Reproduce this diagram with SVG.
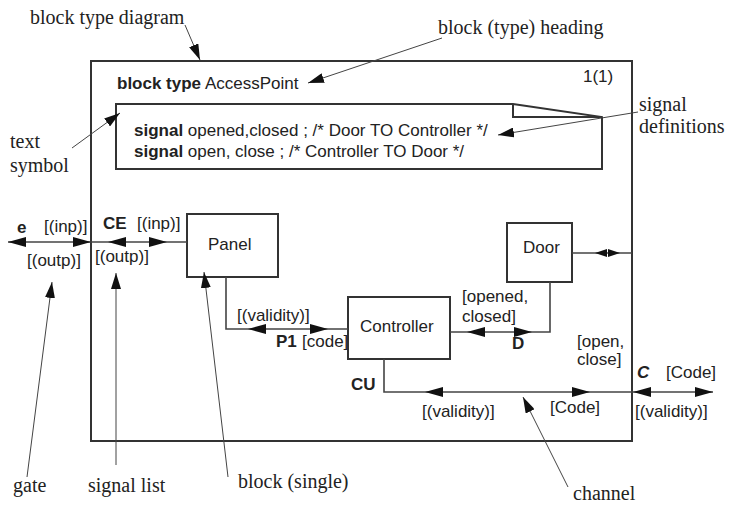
<svg xmlns="http://www.w3.org/2000/svg" width="731" height="509" viewBox="0 0 731 509">
<style>
.ann{font-family:"Liberation Serif","Times New Roman",serif;font-size:20px;fill:#222}
.t{font-family:"Liberation Sans",Arial,sans-serif;font-size:17px;fill:#222}
.b{font-weight:bold}
.box{fill:#fff;stroke:#333;stroke-width:2}
.frame{fill:none;stroke:#333;stroke-width:2}
.ch{fill:none;stroke:#444;stroke-width:1.6}
.al{fill:none;stroke:#444;stroke-width:1;marker-end:url(#ah)}
.ah{fill:#111}
</style>
<defs>
<marker id="ah" viewBox="0 0 16 10" refX="16" refY="5" markerWidth="16" markerHeight="10" markerUnits="userSpaceOnUse" orient="auto">
<path d="M0,0 L16,5 L0,10 Z" fill="#111"/>
</marker>
<path id="arrR" d="M0,0 L-18,-5 L-18,5 Z"/>
<path id="arrL" d="M0,0 L18,-5 L18,5 Z"/>
<path id="sR" d="M0,0 L-12,-4 L-12,4 Z"/>
<path id="sL" d="M0,0 L12,-4 L12,4 Z"/>
</defs>
<rect width="731" height="509" fill="#fff"/>

<g id="frame">
<rect class="frame" x="91" y="61" width="541" height="380"/>
<text class="t" x="117" y="89"><tspan class="b">block type</tspan> AccessPoint</text>
<text class="t" x="583" y="82">1(1)</text>
</g>

<g id="textsymbol">
<path class="frame" d="M513,104 L116,104 L116,169 L602,169 L602,117 L513,104 Z M513,104 L513,117 L602,117"/>
<text class="t" x="134" y="136"><tspan class="b">signal</tspan> opened,closed ; /* Door TO Controller */</text>
<text class="t" x="134" y="157"><tspan class="b">signal</tspan> open, close ; /* Controller TO Door */</text>
</g>

<g id="panel">
<rect class="box" x="187" y="214" width="91" height="63"/>
<text class="t" x="208" y="250">Panel</text>
</g>
<g id="door">
<rect class="box" x="507" y="223" width="65" height="59"/>
<text class="t" x="523" y="253">Door</text>
</g>
<g id="controller">
<rect class="box" x="348" y="297" width="102" height="62"/>
<text class="t" x="360" y="332">Controller</text>
</g>

<g id="connectors" class="ah">
<!-- gate e -->
<line class="ch" x1="8" y1="242" x2="91" y2="242"/>
<use href="#arrL" x="8" y="242"/>
<use href="#arrR" x="91" y="242"/>
<!-- CE -->
<line class="ch" x1="91" y1="242" x2="187" y2="242"/>
<use href="#arrL" x="108" y="242"/>
<use href="#arrR" x="167" y="242"/>
<!-- P1 -->
<polyline class="ch" points="226,277 226,329 348,329"/>
<use href="#arrL" x="248" y="329"/>
<use href="#arrR" x="328" y="329"/>
<!-- D -->
<polyline class="ch" points="450,332 550,332 550,282"/>
<use href="#arrL" x="467" y="332"/>
<use href="#arrR" x="532" y="332"/>
<!-- Door to frame -->
<line class="ch" x1="572" y1="253" x2="632" y2="253"/>
<use href="#sL" x="595" y="253"/>
<use href="#sR" x="620" y="253"/>
<!-- CU -->
<polyline class="ch" points="384,359 384,392 632,392"/>
<use href="#arrL" x="425" y="392"/>
<use href="#arrR" x="590" y="392"/>
<!-- gate C -->
<line class="ch" x1="632" y1="392" x2="713" y2="392"/>
<use href="#arrL" x="633" y="392"/>
<use href="#arrR" x="713" y="392"/>
</g>

<g id="labels">
<text class="t b" x="17" y="233">e</text>
<text class="t" x="44" y="232">[(inp)]</text>
<text class="t" x="27" y="266">[(outp)]</text>
<text class="t b" x="103" y="229">CE</text>
<text class="t" x="137" y="229">[(inp)]</text>
<text class="t" x="95" y="262">[(outp)]</text>
<text class="t" x="237" y="321">[(validity)]</text>
<text class="t b" x="276" y="347">P1</text>
<text class="t" x="302" y="347">[code]</text>
<text class="t" x="462" y="302">[opened,</text>
<text class="t" x="462" y="322">closed]</text>
<text class="t b" x="512" y="349">D</text>
<text class="t" x="577" y="347">[open,</text>
<text class="t" x="577" y="365">close]</text>
<text class="t b" x="351" y="390">CU</text>
<text class="t" x="422" y="417">[(validity)]</text>
<text class="t" x="550" y="413">[Code]</text>
<text class="t b" x="637" y="378" font-style="italic">C</text>
<text class="t" x="666" y="378">[Code]</text>
<text class="t" x="635" y="417">[(validity)]</text>
</g>

<g id="annotations">
<text class="ann" x="30" y="24">block type diagram</text>
<line class="al" x1="185" y1="25" x2="200" y2="60"/>
<text class="ann" x="438" y="34">block (type) heading</text>
<line class="al" x1="442" y1="38" x2="308" y2="83"/>
<text class="ann" x="639" y="111">signal</text>
<text class="ann" x="639" y="133">definitions</text>
<line class="al" x1="638" y1="112" x2="498" y2="135"/>
<text class="ann" x="10" y="148">text</text>
<text class="ann" x="10" y="172">symbol</text>
<line class="al" x1="72" y1="148" x2="120" y2="113"/>
<text class="ann" x="13" y="492">gate</text>
<line class="al" x1="27" y1="477" x2="52" y2="282"/>
<text class="ann" x="88" y="492">signal list</text>
<line class="al" x1="116" y1="465" x2="116" y2="273"/>
<text class="ann" x="238" y="488">block (single)</text>
<line class="al" x1="228" y1="477" x2="204" y2="272"/>
<text class="ann" x="573" y="500">channel</text>
<line class="al" x1="568" y1="487" x2="523" y2="397"/>
</g>
</svg>
